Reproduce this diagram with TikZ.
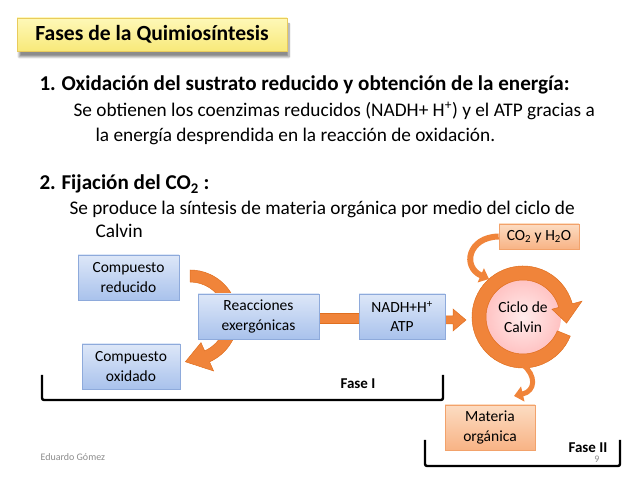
\documentclass[tikz,border=0pt]{standalone}
\usepackage{fontspec}
\setmainfont{Carlito}
\usetikzlibrary{arrows.meta,shadows,shadows.blur}
\definecolor{arrorange}{HTML}{F0843A}
\definecolor{arredge}{HTML}{E06F1F}
\definecolor{bluetop}{HTML}{DDE7F8}
\definecolor{bluebot}{HTML}{A9C2EC}
\definecolor{blueedge}{HTML}{8EAADB}
\definecolor{orgtop}{HTML}{FCDCC2}
\definecolor{orgbot}{HTML}{F8B385}
\definecolor{orgedge}{HTML}{F2A26B}
\definecolor{yeltop}{HTML}{FEF8B8}
\definecolor{yelbot}{HTML}{F8E97A}
\definecolor{yeledge}{HTML}{E9CB5C}
\definecolor{footgray}{HTML}{8C8C8C}
\tikzset{
  bluebox/.style={draw=blueedge, line width=0.6pt, top color=bluetop, bottom color=bluebot,
    align=center, font=\fontsize{15.5}{19.5}\selectfont, inner sep=0pt,
    drop shadow={shadow xshift=1pt, shadow yshift=-1.5pt, opacity=0.35}},
  orgbox/.style={draw=orgedge, line width=0.6pt, top color=orgtop, bottom color=orgbot,
    align=center, font=\fontsize{15.5}{19.5}\selectfont, inner sep=0pt,
    drop shadow={shadow xshift=1pt, shadow yshift=-1.5pt, opacity=0.35}},
  orgarrow/.style={fill=arrorange, draw=arredge, line width=0.5pt},
  curvearrow/.style={draw=arrorange, line width=6pt},
  bracket/.style={draw=black, line width=2.4pt, rounded corners=2pt},
  head/.style={anchor=base west, font=\fontsize{21.1}{25}\selectfont\bfseries},
  body/.style={anchor=base west, font=\fontsize{19.3}{23}\selectfont},
}
\begin{document}
\begin{tikzpicture}[x=1pt,y=1pt]
\useasboundingbox (0,0) rectangle (638,479);
% title
\node[draw=yeledge, line width=0.6pt, top color=yeltop, bottom color=yelbot,
  minimum width=270pt, minimum height=33pt, inner sep=0pt,
  blur shadow={shadow xshift=2pt, shadow yshift=-6pt, shadow blur steps=8, shadow opacity=45},
  font=\fontsize{21.6}{25}\selectfont\bfseries] (title) at (152,444.5) {Fases de la Quimiosíntesis};
% text
\node[head] (n1) at (36,388) {1.};
\node[head] (h1) at (58,388) {Oxidación del sustrato reducido y obtención de la energía:};
\node[body] (b1) at (70,362) {Se obtienen los coenzimas reducidos (NADH+ H\textsuperscript{+}) y el ATP gracias a};
\node[body] (b2) at (92,337) {la energía desprendida en la reacción de oxidación.};
\node[head] (n2) at (36,289) {2.};
\node[head] (h2) at (58,289) {Fijación del CO\textsubscript{2} :};
\node[body] (b3) at (66,264) {Se produce la síntesis de materia orgánica por medio del ciclo de};
\node[body] (b4) at (92,241) {Calvin};
% arrows behind
\fill[orgarrow] (319,156) rectangle (360,166);
\begin{scope}[shift={(190,161)}]
\filldraw[orgarrow] (90:48pt) arc[start angle=90, end angle=-66, radius=48pt]
  -- (-66:58pt) -- (-96:44pt) -- (-66:27pt) -- (-66:36pt)
  arc[start angle=-66, end angle=90, radius=36pt] -- cycle;
\end{scope}
\filldraw[orgarrow] (444,155) -- (453,155) -- (453,148) -- (466,159) -- (453,170) -- (453,163) -- (444,163) -- cycle;
% circle
\shade[inner color=white!70!pink, outer color=pink!80!red!60] (523,162) circle[radius=38pt];
\node[align=center, font=\fontsize{15.5}{19.5}\selectfont] (calvin) at (523,162) {Ciclo de\\Calvin};
\begin{scope}[shift={(523,162)}]
\filldraw[orgarrow] (-22:51pt) arc[start angle=-22, end angle=-345, radius=51pt]
  -- (15:61pt) -- (-8:44pt) -- (15:30pt) -- (15:37pt)
  arc[start angle=15, end angle=338, radius=37pt] -- cycle;
\end{scope}
% boxes
\node[bluebox, minimum width=101pt, minimum height=45pt] (cred) at (128.5,201.5) {Compuesto\\reducido};
\node[bluebox, minimum width=121pt, minimum height=45pt] (reac) at (258.5,162.5) {Reacciones\\exergónicas};
\node[bluebox, minimum width=98pt, minimum height=45pt] (cox) at (131,112.5) {Compuesto\\oxidado};
\node[bluebox, minimum width=86pt, minimum height=45pt] (nadh) at (402,162.5) {NADH+H\textsuperscript{+}\\ATP};
\node[orgbox, minimum width=80pt, minimum height=25pt] (co2) at (539,242.5) {CO\textsubscript{2} y H\textsubscript{2}O};
\node[orgbox, minimum width=90pt, minimum height=45pt] (mat) at (490,51.5) {Materia\\orgánica};
% small curved arrows
\draw[curvearrow, -{Triangle[width=15pt,length=9pt]}] (co2.west) .. controls (468,242) and (462,212) .. (489,200);
\draw[curvearrow, line width=5pt, -{Triangle[width=15pt,length=9pt]}] (523,114) .. controls (536,104) and (536,88) .. (514,83);
% brackets
\draw[bracket] (42,104) -- (42,79) -- (443,79) -- (443,104);
\draw[bracket] (425,39) -- (425,13) -- (620,13) -- (620,39);
\node[font=\fontsize{15}{18}\selectfont\bfseries] (f1) at (358,95) {Fase I};
\node[font=\fontsize{15}{18}\selectfont\bfseries] (f2) at (588,31) {Fase II};
% footer
\node[anchor=west, font=\fontsize{10}{12}\selectfont, text=footgray] (auth) at (37,22) {Eduardo Gómez};
\node[font=\fontsize{10}{12}\selectfont, text=footgray] (pg) at (597,20) {9};
\end{tikzpicture}
\end{document}
